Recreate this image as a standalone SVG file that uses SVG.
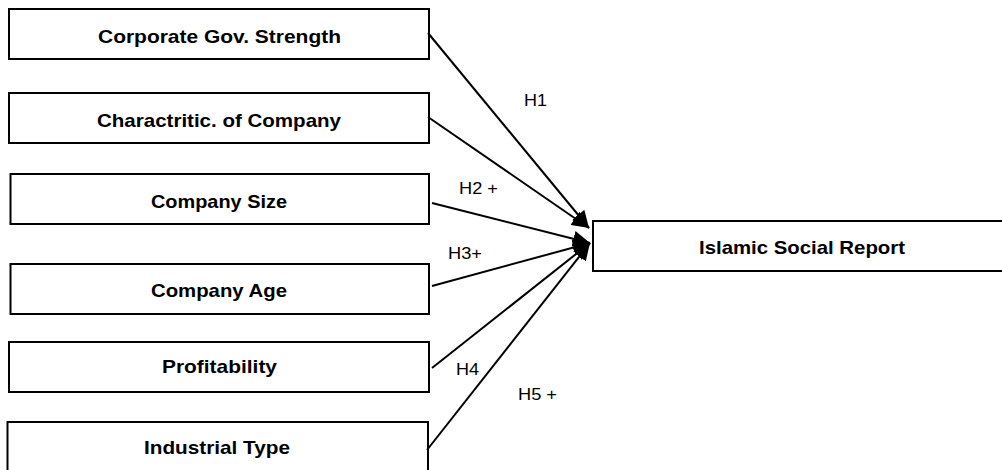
<svg xmlns="http://www.w3.org/2000/svg" width="1002" height="470" viewBox="0 0 1002 470">
<style>
.box{fill:#fff;stroke:#000;stroke-width:2}
.t{font-family:"Liberation Sans",Arial,sans-serif;font-weight:bold;font-size:19px;text-anchor:middle;fill:#000}
.l{font-family:"Liberation Sans",Arial,sans-serif;font-size:16px;fill:#000}
.c{stroke:#000;stroke-width:2;fill:none;marker-end:url(#ah)}
</style>
<defs>
<marker id="ah" markerUnits="userSpaceOnUse" markerWidth="18" markerHeight="16" refX="17" refY="8" orient="auto">
<path d="M0,0 L17,8 L0,16 Z" fill="#000"/>
</marker>
</defs>
<rect width="1002" height="470" fill="#fff"/>
<g id="n1"><rect class="box" x="9" y="9" width="420" height="50"/><text class="t" x="219.5" y="43" textLength="243" lengthAdjust="spacingAndGlyphs">Corporate Gov. Strength</text></g>
<g id="n2"><rect class="box" x="9" y="93" width="420" height="50"/><text class="t" x="219" y="127" textLength="244" lengthAdjust="spacingAndGlyphs">Charactritic. of Company</text></g>
<g id="n3"><rect class="box" x="10.5" y="174" width="418.5" height="50"/><text class="t" x="219" y="208" textLength="136" lengthAdjust="spacingAndGlyphs">Company Size</text></g>
<g id="n4"><rect class="box" x="10.5" y="264" width="418.5" height="50"/><text class="t" x="219" y="297" textLength="136" lengthAdjust="spacingAndGlyphs">Company Age</text></g>
<g id="n5"><rect class="box" x="9" y="342" width="420" height="50"/><text class="t" x="219.5" y="373" textLength="115" lengthAdjust="spacingAndGlyphs">Profitability</text></g>
<g id="n6"><rect class="box" x="7.5" y="422" width="420.5" height="56"/><text class="t" x="217" y="454" textLength="146" lengthAdjust="spacingAndGlyphs">Industrial Type</text></g>
<g id="n7"><rect class="box" x="593" y="221" width="412" height="50"/><text class="t" x="802" y="254" textLength="206" lengthAdjust="spacingAndGlyphs">Islamic Social Report</text></g>
<g id="connectors">
<line class="c" x1="428" y1="33" x2="589" y2="228"/>
<line class="c" x1="428" y1="117" x2="589" y2="228"/>
<line class="c" x1="432" y1="203" x2="590" y2="243"/>
<line class="c" x1="432" y1="286" x2="590" y2="243"/>
<line class="c" x1="432" y1="368" x2="590" y2="243"/>
<line class="c" x1="427" y1="450" x2="590" y2="243"/>
<text class="l" x="524" y="106" textLength="23" lengthAdjust="spacingAndGlyphs">H1</text>
<text class="l" x="459" y="194" textLength="39" lengthAdjust="spacingAndGlyphs">H2 +</text>
<text class="l" x="448" y="259" textLength="34" lengthAdjust="spacingAndGlyphs">H3+</text>
<text class="l" x="456" y="375" textLength="23" lengthAdjust="spacingAndGlyphs">H4</text>
<text class="l" x="518" y="400" textLength="39" lengthAdjust="spacingAndGlyphs">H5 +</text>
</g>
</svg>
